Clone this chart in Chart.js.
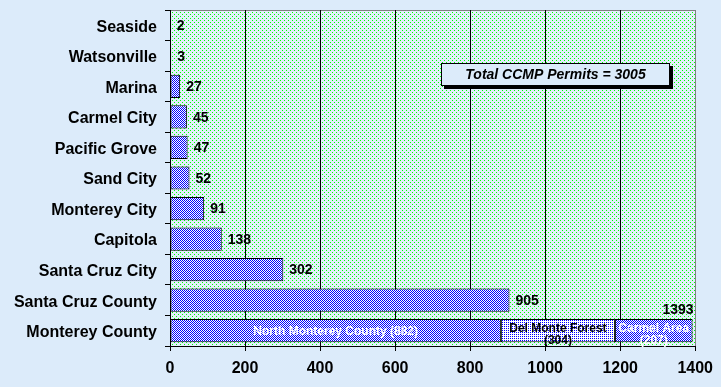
<!DOCTYPE html>
<html><head><meta charset="utf-8">
<script src="https://cdn.jsdelivr.net/npm/chart.js@4/dist/chart.umd.min.js"></script>
<style>html,body{margin:0;padding:0;background:#dcebfa;overflow:hidden;} #wrap{width:721px;height:387px;}</style>
</head><body><div id="wrap"><canvas id="c" width="721" height="387"></canvas></div>
<script>
const categories = ['Seaside','Watsonville','Marina','Carmel City','Pacific Grove','Sand City','Monterey City','Capitola','Santa Cruz City','Santa Cruz County','Monterey County'];
const permits = [2,3,27,45,47,52,91,138,302,905,null];
const montereyParts = ['North Monterey County','Del Monte Forest','Carmel Area'];
const montereyValues = [882,304,207];
const montereyTotal = 1393;
const xTicks = [0,200,400,600,800,1000,1200,1400];
const totalLabel = 'Total CCMP Permits = 3005';

const BG = '#dcebfa';
const FONT = "'Liberation Sans', Arial, sans-serif";

function makePattern(w, h, bg, fg, pts) {
  const c = document.createElement('canvas');
  c.width = w; c.height = h;
  const x = c.getContext('2d');
  x.fillStyle = bg; x.fillRect(0, 0, w, h);
  x.fillStyle = fg;
  pts.forEach(p => x.fillRect(p[0], p[1], 1, 1));
  return document.getElementById('c').getContext('2d').createPattern(c, 'repeat');
}
const plotPattern = makePattern(4, 4, '#e2effb', '#00ff00', [[0,0],[2,2]]);
const checker = makePattern(2, 2, '#ffffff', '#0000ff', [[0,0],[1,1]]);
const dotted = makePattern(2, 2, '#ffffff', '#0000ff', [[0,0]]);

const lastIdx = categories.length - 1;
function onlyLast(v) { return categories.map((c, i) => i === lastIdx ? v : null); }

const barCommon = {
  borderColor: '#000', borderWidth: 1, borderSkipped: false,
  barPercentage: 0.76, categoryPercentage: 1, stack: 's'
};

const decor = {
  id: 'decor',
  beforeDraw(chart) {
    const ctx = chart.ctx, a = chart.chartArea;
    ctx.save();
    ctx.fillStyle = BG;
    ctx.fillRect(0, 0, chart.width, chart.height);
    ctx.fillStyle = plotPattern;
    ctx.fillRect(a.left, a.top, a.right - a.left, a.bottom - a.top);
    ctx.strokeStyle = '#808080';
    ctx.lineWidth = 1;
    ctx.beginPath();
    ctx.moveTo(a.left, Math.round(a.top) + 0.5);
    ctx.lineTo(Math.round(a.right) + 0.5, Math.round(a.top) + 0.5);
    ctx.lineTo(Math.round(a.right) + 0.5, a.bottom);
    ctx.stroke();
    ctx.restore();
  },
  afterDatasetsDraw(chart) {
    const ctx = chart.ctx;
    ctx.save();
    ctx.font = 'bold 14px ' + FONT;
    ctx.fillStyle = '#000';
    ctx.textBaseline = 'middle';
    ctx.textAlign = 'left';
    const meta0 = chart.getDatasetMeta(0);
    permits.forEach((v, i) => {
      if (v === null) return;
      const el = meta0.data[i];
      ctx.fillText(String(v), el.x + 6, el.y + 1);
    });
    const lastEl = chart.getDatasetMeta(3).data[lastIdx];
    ctx.textAlign = 'right';
    ctx.fillText(String(montereyTotal), lastEl.x + 1, lastEl.y - 21);
    ctx.font = 'bold 12px ' + FONT;
    ctx.textAlign = 'center';
    const segColors = ['#ffffff', '#000000', '#ffffff'];
    montereyParts.forEach((name, k) => {
      const el = chart.getDatasetMeta(k + 1).data[lastIdx];
      const cx = (el.x + el.base) / 2;
      ctx.fillStyle = segColors[k];
      if (k === 0) {
        ctx.fillText(name + ' (' + montereyValues[k] + ')', cx, el.y + 1);
      } else {
        ctx.fillText(name, cx, el.y - 2);
        ctx.fillText('(' + montereyValues[k] + ')', cx, el.y + 10);
      }
    });
    const bx = 441, by = 63, bw = 229, bh = 23;
    ctx.fillStyle = '#000';
    ctx.fillRect(bx + 3, by + 3, bw, bh);
    ctx.fillStyle = BG;
    ctx.fillRect(bx, by, bw, bh);
    ctx.strokeStyle = '#000';
    ctx.lineWidth = 1;
    ctx.strokeRect(bx + 0.5, by + 0.5, bw - 1, bh - 1);
    ctx.fillStyle = '#000';
    ctx.font = 'italic bold 14px ' + FONT;
    ctx.textAlign = 'center';
    ctx.fillText(totalLabel, bx + bw / 2, by + bh / 2 + 1);
    ctx.restore();
  }
};

new Chart(document.getElementById('c'), {
  type: 'bar',
  data: {
    labels: categories,
    datasets: [
      Object.assign({ label: 'Permits', data: permits, backgroundColor: checker }, barCommon),
      Object.assign({ label: montereyParts[0], data: onlyLast(montereyValues[0]), backgroundColor: checker }, barCommon),
      Object.assign({ label: montereyParts[1], data: onlyLast(montereyValues[1]), backgroundColor: dotted }, barCommon),
      Object.assign({ label: montereyParts[2], data: onlyLast(montereyValues[2]), backgroundColor: checker }, barCommon)
    ]
  },
  options: {
    indexAxis: 'y',
    responsive: false,
    animation: false,
    devicePixelRatio: 1,
    layout: { padding: { top: 10, right: 22, left: 0, bottom: 0 } },
    plugins: { legend: { display: false }, tooltip: { enabled: false } },
    scales: {
      x: {
        stacked: true, min: 0, max: 1400,
        afterBuildTicks(scale) { scale.ticks = xTicks.map(v => ({ value: v })); },
        afterFit(scale) { scale.height = 41; },
        ticks: { color: '#000', font: { family: FONT, size: 16, weight: 'bold' }, padding: 8, maxRotation: 0,
                 callback: (v) => String(v) },
        grid: {
          color: (c) => (c.tick && c.tick.value === 1400) ? '#808080' : '#000',
          lineWidth: 1, tickLength: 5, drawOnChartArea: true,
          tickColor: '#000'
        },
        border: { display: true, color: '#000', width: 1 }
      },
      y: {
        stacked: true,
        afterFit(scale) { scale.width = 170; scale.paddingTop = 0; scale.paddingBottom = 0; },
        ticks: { color: '#000', font: { family: FONT, size: 16, weight: 'bold' }, padding: 8, labelOffset: 2 },
        grid: { offset: true, drawOnChartArea: false, tickLength: 5, color: '#000' },
        border: { display: true, color: '#000', width: 1 }
      }
    }
  },
  plugins: [decor]
});
</script>
</body></html>
